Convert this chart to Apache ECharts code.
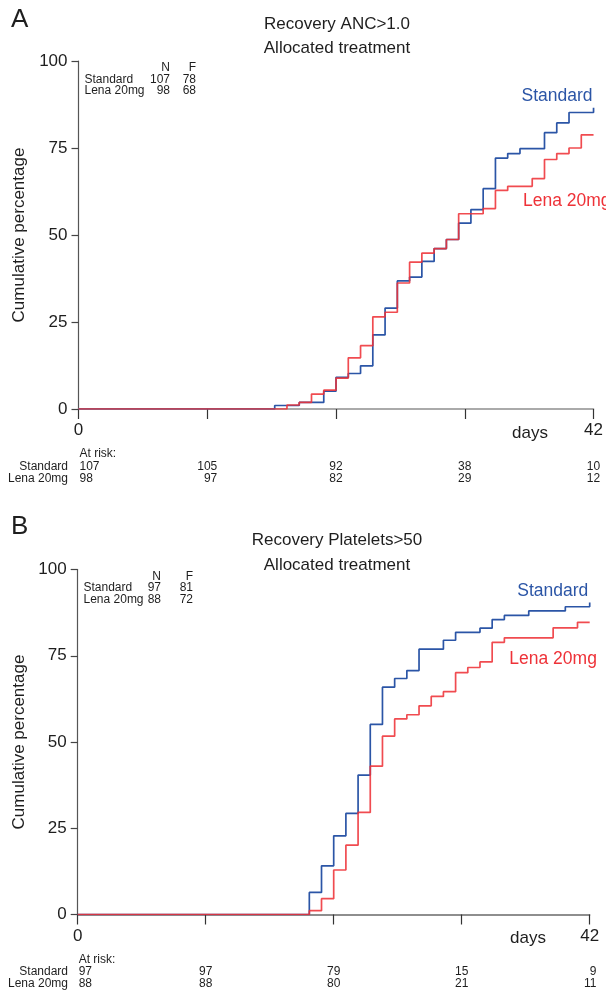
<!DOCTYPE html>
<html>
<head>
<meta charset="utf-8">
<script src="https://cdn.jsdelivr.net/npm/echarts@6/dist/echarts.min.js"></script>
<style>
html,body{margin:0;padding:0;background:#fff;}
#chart{width:606px;height:992px;}
</style>
</head>
<body>
<div id="chart"></div>
<script>
// ---- Data ----
const groupNames = ['Standard', 'Lena 20mg'];
const riskDays = [0, 10.5, 21, 31.5, 42];
const xTickLabels = [0, 42];
const yTicks = [0, 25, 50, 75, 100];

// Panel A: Recovery ANC>1.0
const ancStdDays  = [0,16,18,20,21,22,23,24,25,26,27,28,29,30,31,32,33,34,35,36,38,39,40,42];
const ancStdPct   = [0,1.0,1.9,5.1,9.1,10.2,12.4,21.3,29.0,36.8,37.9,42.4,46.1,48.7,53.4,57.3,63.3,72.1,73.4,74.8,79.4,82.2,85.2,86.6];
const ancLenaDays = [0,17,18,19,20,21,22,23,24,25,26,27,28,29,30,31,33,34,35,37,38,39,40,41,42];
const ancLenaPct  = [0,1.15,1.9,4.3,5.4,8.9,14.7,18.2,26.5,27.8,36.2,42.2,44.8,46.1,48.7,56.1,57.6,62.8,64.0,66.2,71.7,73.4,75.0,78.8,78.8];
const ancN = [107, 98];
const ancF = [78, 68];
const ancRiskStd  = [107, 105, 92, 38, 10];
const ancRiskLena = [98, 97, 82, 29, 12];

// Panel B: Recovery Platelets>50
const platStdDays  = [0,19,20,21,22,23,24,25,26,27,28,30,31,33,34,35,37,40,42];
const platStdPct   = [0,6.4,14.1,22.8,29.3,40.4,55.1,65.9,68.4,70.7,76.9,79.5,81.8,83.0,85.5,86.7,88.0,89.2,90.4];
const platLenaDays = [0,19,20,21,22,23,24,25,26,27,28,29,30,31,32,33,34,35,39,41,42];
const platLenaPct  = [0,1.1,4.6,12.9,20.1,29.6,43.0,51.7,56.7,57.9,60.5,63.2,64.6,70.1,71.6,73.2,78.9,80.2,83.1,84.7,84.7];
const platN = [97, 88];
const platF = [81, 72];
const platRiskStd  = [97, 97, 79, 15, 9];
const platRiskLena = [88, 88, 80, 21, 11];

// ---- Styles ----
const FONT = '"Liberation Sans", Arial, Helvetica, sans-serif';
const BLUE = '#2b55a6';
const RED = '#ee3238';
const INK = '#1e1e1e';

function zip(a, b) { return a.map((v, i) => [v, b[i]]); }

function xAxisCfg(idx) {
  return {
    gridIndex: idx, type: 'value', min: 0, max: 42, interval: 10.5,
    axisLine: { show: true, lineStyle: { color: idx === 0 ? '#8e8e8e' : '#6a6a6a', width: 1.5 } },
    axisTick: { show: true, length: 10, lineStyle: { color: '#333', width: 1.2 } },
    axisLabel: {
      fontSize: 17, color: INK, margin: 13, fontFamily: FONT,
      formatter: v => (xTickLabels.indexOf(v) >= 0 ? String(v) : '')
    },
    splitLine: { show: false }
  };
}
function yAxisCfg(idx) {
  return {
    gridIndex: idx, type: 'value', min: 0, max: 100, interval: 25,
    axisLine: { show: true, lineStyle: { color: '#555', width: 1.2 } },
    axisTick: { show: true, length: 7, lineStyle: { color: '#444', width: 1.2 } },
    axisLabel: { fontSize: 17, color: INK, margin: 11, fontFamily: FONT,
      formatter: v => (yTicks.indexOf(v) >= 0 ? String(v) : '') },
    splitLine: { show: false },
    name: 'Cumulative percentage', nameLocation: 'middle', nameGap: 46,
    nameTextStyle: { fontSize: 17, color: INK, fontFamily: FONT }
  };
}
function lineSeries(name, data, color, idx, opacity) {
  return {
    name, type: 'line', step: 'end', data, xAxisIndex: idx, yAxisIndex: idx,
    symbol: 'none', silent: true, z: color === RED ? 3 : 2,
    lineStyle: { color, width: 1.7, opacity: opacity }
  };
}

const chart = echarts.init(document.getElementById('chart'), null, { renderer: 'canvas' });
chart.setOption({
  animation: false,
  textStyle: { fontFamily: FONT },
  grid: [
    { left: 78.5, top: 61, width: 516, height: 348 },
    { left: 77.7, top: 569.5, width: 512, height: 345 }
  ],
  xAxis: [xAxisCfg(0), xAxisCfg(1)],
  yAxis: [yAxisCfg(0), yAxisCfg(1)],
  series: [
    lineSeries(groupNames[0], zip(ancStdDays, ancStdPct), BLUE, 0, 1),
    lineSeries(groupNames[1], zip(ancLenaDays, ancLenaPct), RED, 0, 0.88),
    lineSeries(groupNames[0], zip(platStdDays, platStdPct), BLUE, 1, 1),
    lineSeries(groupNames[1], zip(platLenaDays, platLenaPct), RED, 1, 0.88)
  ]
});

function txt(text, x, y, size, opts) {
  opts = opts || {};
  const align = opts.align || 'left';
  return {
    type: 'text', silent: true, z: 10,
    style: {
      text: String(text), x, y,
      font: size + 'px ' + FONT,
      fill: opts.fill || INK,
      align: align, textAlign: align,
      verticalAlign: 'middle', textVerticalAlign: 'middle'
    }
  };
}

function panelGraphics(p) {
  const g = [];
  const idx = p.idx;
  const px = d => chart.convertToPixel({ xAxisIndex: idx }, d);
  const py = v => chart.convertToPixel({ yAxisIndex: idx }, v);
  const y0 = py(0), y100 = py(100);
  g.push(txt(p.letter, 11, p.letterY, 26));
  g.push(txt(p.title1, 337, p.titleY, 17, { align: 'center' }));
  g.push(txt('Allocated treatment', 337, p.titleY + 24.5, 17, { align: 'center' }));
  // N / F table
  const ty = y100 + 7;
  g.push(txt('N', p.nRight, ty, 12, { align: 'right' }));
  g.push(txt('F', p.fRight, ty, 12, { align: 'right' }));
  for (let i = 0; i < 2; i++) {
    const ry = ty + 11.5 * (i + 1);
    g.push(txt(groupNames[i], p.tabLeft, ry, 12));
    g.push(txt(p.N[i], p.nRight, ry, 12, { align: 'right' }));
    g.push(txt(p.F[i], p.fRight, ry, 12, { align: 'right' }));
  }
  // curve labels
  g.push(txt(groupNames[0], p.stdLab[0], p.stdLab[1], 17.5, { fill: BLUE }));
  g.push(txt(groupNames[1], p.lenaLab[0], p.lenaLab[1], 17.5, { fill: RED }));
  // x-axis name
  g.push(txt('days', p.daysX, y0 + 24, 17));
  // at-risk table
  g.push(txt('At risk:', px(0) + 1, y0 + 45, 12));
  const rows = [p.riskStd, p.riskLena];
  for (let r = 0; r < 2; r++) {
    const ry = y0 + 57.5 + 11.8 * r;
    g.push(txt(groupNames[r], 68, ry, 12, { align: 'right' }));
    for (let c = 0; c < riskDays.length; c++) {
      const x = px(riskDays[c]);
      if (c === 0) {
        g.push(txt(rows[r][c], x + 1, ry, 12));
      } else {
        const maxDigits = Math.max(String(p.riskStd[c]).length, String(p.riskLena[c]).length);
        g.push(txt(rows[r][c], x + maxDigits * 0.278 * 12, ry, 12, { align: 'right' }));
      }
    }
  }
  return g;
}

const graphics = [].concat(
  panelGraphics({
    idx: 0, letter: 'A', letterY: 20, title1: 'Recovery ANC>1.0', titleY: 24,
    N: ancN, F: ancF, tabLeft: 84.5, nRight: 170, fRight: 196,
    stdLab: [521.5, 96], lenaLab: [523, 201], daysX: 512,
    riskStd: ancRiskStd, riskLena: ancRiskLena
  }),
  panelGraphics({
    idx: 1, letter: 'B', letterY: 527, title1: 'Recovery Platelets>50', titleY: 540.5,
    N: platN, F: platF, tabLeft: 83.5, nRight: 161, fRight: 193,
    stdLab: [517.3, 591.5], lenaLab: [509.3, 659], daysX: 510,
    riskStd: platRiskStd, riskLena: platRiskLena
  })
);
chart.setOption({ graphic: graphics });
</script>
</body>
</html>
